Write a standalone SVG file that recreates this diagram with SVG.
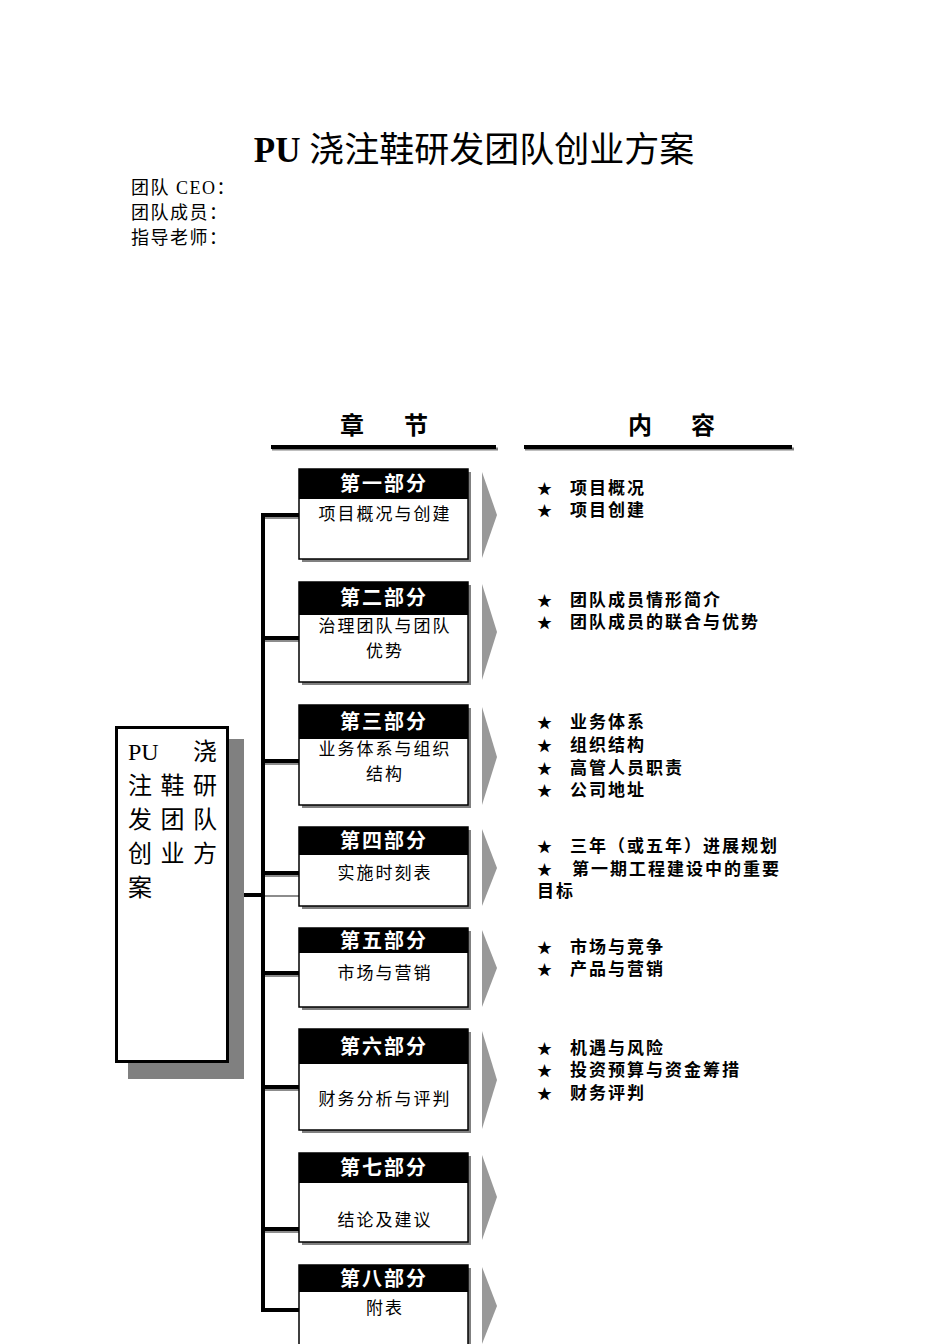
<svg xmlns="http://www.w3.org/2000/svg" width="950" height="1344" viewBox="0 0 950 1344">
  <style>
    .cjk { font-family: "Liberation Serif", "Noto Sans CJK SC", serif; fill: #000; }
    .title { font-size: 35px; }
    .info { font-size: 18px; letter-spacing: 1.5px; }
    .colhead { font-size: 24px; font-weight: bold; text-anchor: middle; }
    .main { font-size: 24px; }
    .hdr { font-size: 20px; font-weight: bold; fill: #fff; text-anchor: middle; letter-spacing: 2px; }
    .body { font-size: 17px; text-anchor: middle; letter-spacing: 2px; }
    .item { font-size: 17px; font-weight: bold; letter-spacing: 2px; }
    .star { font-family: "Noto Sans CJK SC", sans-serif; font-size: 15px; }
    .shadow { fill: #808080; }
    .frame { fill: #fff; stroke: #000; stroke-width: 1.5; }
    .band { fill: #000; }
    .pointer { fill: #999; }
    .wire { stroke: #000; stroke-width: 4; fill: none; }
    .wireshade { stroke: #8c8c8c; stroke-width: 2; fill: none; }
  </style>

  <!-- heading block -->
  <g id="title">
    <text class="cjk title" x="474" y="162" text-anchor="middle"><tspan font-weight="bold">PU</tspan> 浇注鞋研发团队创业方案</text>
  </g>
  <g id="info">
    <text class="cjk info" x="131" y="194">团队 CEO：</text>
    <text class="cjk info" x="131" y="219">团队成员：</text>
    <text class="cjk info" x="131" y="244">指导老师：</text>
  </g>

  <!-- column headings -->
  <g id="col-chapter">
    <text class="cjk colhead" x="352" y="434">章</text>
    <text class="cjk colhead" x="416" y="434">节</text>
    <line x1="272" y1="449" x2="498" y2="449" stroke="#808080" stroke-width="3"/>
    <line x1="271" y1="447" x2="496" y2="447" stroke="#000" stroke-width="4"/>
  </g>
  <g id="col-content">
    <text class="cjk colhead" x="640" y="434">内</text>
    <text class="cjk colhead" x="703" y="434">容</text>
    <line x1="525" y1="449" x2="794" y2="449" stroke="#808080" stroke-width="3"/>
    <line x1="524" y1="447" x2="792" y2="447" stroke="#000" stroke-width="4"/>
  </g>

  <!-- connectors -->
  <g id="connectors">
    <path class="wireshade" d="M265 896 H299 M265 518 H299 M265 641 H299 M265 764 H299 M265 876 H299 M265 976 H299 M265 1090 H299 M265 1232 H299"/>
    <path class="wire" d="M229 895 H263"/>
    <path class="wire" d="M299 515 H263 V1310 H299"/>
    <path class="wire" d="M263 638 H299 M263 761 H299 M263 873 H299 M263 973 H299 M263 1087 H299 M263 1229 H299"/>
  </g>

  <!-- root node -->
  <g id="root">
    <rect class="shadow" x="128" y="739" width="116" height="340"/>
    <rect x="116.5" y="727.5" width="111" height="334" fill="#fff" stroke="#000" stroke-width="3"/>
    <text class="cjk main" y="760"><tspan x="128">PU</tspan><tspan x="193">浇</tspan></text>
    <text class="cjk main" y="794" x="128 160.5 193">注鞋研</text>
    <text class="cjk main" y="828" x="128 160.5 193">发团队</text>
    <text class="cjk main" y="862" x="128 160.5 193">创业方</text>
    <text class="cjk main" y="896" x="128">案</text>
  </g>

  <!-- chapter nodes -->
  <g id="part1">
    <rect class="shadow" x="302" y="472" width="169" height="90"/>
    <rect class="frame" x="299" y="469" width="169" height="90"/>
    <rect class="band" x="299" y="469" width="169" height="30"/>
    <text class="cjk hdr" x="384" y="491">第一部分</text>
    <text class="cjk body" x="385" y="520">项目概况与创建</text>
    <polygon class="pointer" points="482,472 497,515 482,558"/>
  </g>
  <g id="part2">
    <rect class="shadow" x="302" y="585" width="169" height="100"/>
    <rect class="frame" x="299" y="582" width="169" height="100"/>
    <rect class="band" x="299" y="582" width="169" height="33"/>
    <text class="cjk hdr" x="384" y="605">第二部分</text>
    <text class="cjk body" x="385" y="632">治理团队与团队</text>
    <text class="cjk body" x="385" y="657">优势</text>
    <polygon class="pointer" points="482,584 497,632 482,680"/>
  </g>
  <g id="part3">
    <rect class="shadow" x="302" y="708" width="169" height="100"/>
    <rect class="frame" x="299" y="705" width="169" height="100"/>
    <rect class="band" x="299" y="705" width="169" height="34"/>
    <text class="cjk hdr" x="384" y="729">第三部分</text>
    <text class="cjk body" x="385" y="755">业务体系与组织</text>
    <text class="cjk body" x="385" y="780">结构</text>
    <polygon class="pointer" points="482,707 497,757 482,805"/>
  </g>
  <g id="part4">
    <rect class="shadow" x="302" y="830" width="169" height="79"/>
    <rect class="frame" x="299" y="827" width="169" height="79"/>
    <rect class="band" x="299" y="827" width="169" height="28"/>
    <text class="cjk hdr" x="384" y="848">第四部分</text>
    <text class="cjk body" x="385" y="879">实施时刻表</text>
    <polygon class="pointer" points="482,829 497,868 482,906"/>
  </g>
  <g id="part5">
    <rect class="shadow" x="302" y="931" width="169" height="79"/>
    <rect class="frame" x="299" y="928" width="169" height="79"/>
    <rect class="band" x="299" y="928" width="169" height="25"/>
    <text class="cjk hdr" x="384" y="948">第五部分</text>
    <text class="cjk body" x="385" y="979">市场与营销</text>
    <polygon class="pointer" points="482,930 497,968 482,1007"/>
  </g>
  <g id="part6">
    <rect class="shadow" x="302" y="1032" width="169" height="101"/>
    <rect class="frame" x="299" y="1029" width="169" height="101"/>
    <rect class="band" x="299" y="1029" width="169" height="35"/>
    <text class="cjk hdr" x="384" y="1054">第六部分</text>
    <text class="cjk body" x="385" y="1105">财务分析与评判</text>
    <polygon class="pointer" points="482,1031 497,1080 482,1129"/>
  </g>
  <g id="part7">
    <rect class="shadow" x="302" y="1156" width="169" height="89"/>
    <rect class="frame" x="299" y="1153" width="169" height="89"/>
    <rect class="band" x="299" y="1153" width="169" height="30"/>
    <text class="cjk hdr" x="384" y="1175">第七部分</text>
    <text class="cjk body" x="385" y="1226">结论及建议</text>
    <polygon class="pointer" points="482,1155 497,1197 482,1240"/>
  </g>
  <g id="part8">
    <rect class="shadow" x="302" y="1268" width="169" height="90"/>
    <rect class="frame" x="299" y="1265" width="169" height="90"/>
    <rect class="band" x="299" y="1265" width="169" height="27"/>
    <text class="cjk hdr" x="384" y="1286">第八部分</text>
    <text class="cjk body" x="385" y="1314">附表</text>
    <polygon class="pointer" points="482,1267 497,1306 482,1344"/>
  </g>

  <!-- content lists -->
  <g id="content1">
    <text class="star" x="537" y="494">★</text><text class="cjk item" x="570" y="494">项目概况</text>
    <text class="star" x="537" y="516">★</text><text class="cjk item" x="570" y="516">项目创建</text>
  </g>
  <g id="content2">
    <text class="star" x="537" y="606">★</text><text class="cjk item" x="570" y="606">团队成员情形简介</text>
    <text class="star" x="537" y="628">★</text><text class="cjk item" x="570" y="628">团队成员的联合与优势</text>
  </g>
  <g id="content3">
    <text class="star" x="537" y="728">★</text><text class="cjk item" x="570" y="728">业务体系</text>
    <text class="star" x="537" y="751">★</text><text class="cjk item" x="570" y="751">组织结构</text>
    <text class="star" x="537" y="774">★</text><text class="cjk item" x="570" y="774">高管人员职责</text>
    <text class="star" x="537" y="796">★</text><text class="cjk item" x="570" y="796">公司地址</text>
  </g>
  <g id="content4">
    <text class="star" x="537" y="852">★</text><text class="cjk item" x="570" y="852">三年（或五年）进展规划</text>
    <text class="star" x="537" y="875">★</text><text class="cjk item" x="572" y="875">第一期工程建设中的重要</text>
    <text class="cjk item" x="537" y="897">目标</text>
  </g>
  <g id="content5">
    <text class="star" x="537" y="953">★</text><text class="cjk item" x="570" y="953">市场与竞争</text>
    <text class="star" x="537" y="975">★</text><text class="cjk item" x="570" y="975">产品与营销</text>
  </g>
  <g id="content6">
    <text class="star" x="537" y="1054">★</text><text class="cjk item" x="570" y="1054">机遇与风险</text>
    <text class="star" x="537" y="1076">★</text><text class="cjk item" x="570" y="1076">投资预算与资金筹措</text>
    <text class="star" x="537" y="1099">★</text><text class="cjk item" x="570" y="1099">财务评判</text>
  </g>
</svg>
